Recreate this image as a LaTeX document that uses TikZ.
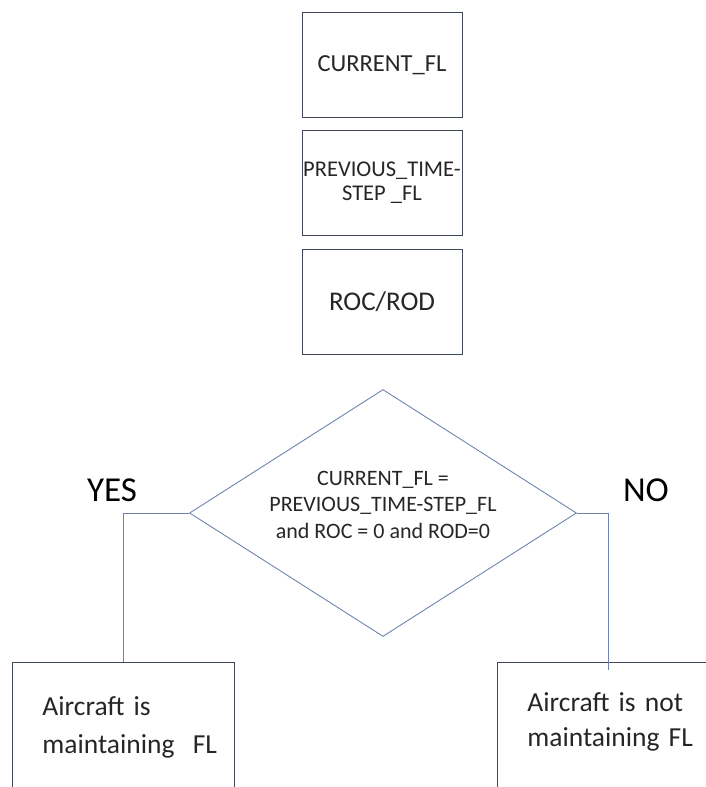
\documentclass[tikz,border=0pt]{standalone}
\usepackage{fontspec}
\setmainfont{Carlito}
\usetikzlibrary{positioning,shapes.geometric}
\definecolor{flBoxLine}{HTML}{3E4859}
\definecolor{flLinkLine}{HTML}{6E84AC}
\definecolor{flText}{HTML}{262626}
\tikzset{
  input box/.style={
    rectangle, draw=flBoxLine, line width=0.9pt,
    minimum width=160pt, minimum height=105pt,
    inner sep=0pt, align=center, text=flText,
  },
  test diamond/.style={
    diamond, draw=flLinkLine, line width=0.9pt, aspect=1.567,
    minimum width=387pt, minimum height=247pt,
    inner sep=0pt, align=center, text=flText,
    font=\fontsize{22}{26.5}\selectfont,
  },
  result box/.style={
    rectangle, draw=flBoxLine, line width=0.9pt,
    text width=162pt, inner xsep=30pt, inner ysep=30pt,
    text depth=80pt, align=left, text=flText,
  },
  branch link/.style={draw=flLinkLine, line width=0.9pt},
  branch label/.style={text=black, font=\fontsize{35}{40}\selectfont},
}

\begin{document}
\begin{tikzpicture}[x=1pt, y=-1pt]
\clip (0,0) rectangle (706,787);

% --- inputs ---
\node[input box, anchor=north, font=\fontsize{24.5}{29}\selectfont]
  (curfl) at (382,12) {CURRENT\_FL};
\node[input box, below=12pt of curfl, font=\fontsize{22.5}{24}\selectfont]
  (prevfl) {PREVIOUS\_TIME-\\STEP \_FL};
\node[input box, below=13pt of prevfl, font=\fontsize{27}{30}\selectfont]
  (rocrod) {ROC/ROD};

% --- test ---
\node[test diamond] (test) at (383,513)
  {CURRENT\_FL =\\PREVIOUS\_TIME-STEP\_FL\\and ROC = 0 and ROD=0\\[-10pt]};

% --- outcomes ---
\node[result box, inner ysep=34pt, anchor=north west, font=\fontsize{27.5}{38}\selectfont]
  (keep) at (12,662) {Aircraft~is\\maintaining~~FL};
\node[result box, anchor=north west, font=\fontsize{27.5}{35}\selectfont]
  (change) at (497,662) {Aircraft~is~not\\maintaining~FL};

\draw[branch link] (test.west) -| (keep.north);
\draw[branch link, shorten >=-8pt] (test.east) -| (change.north);

\node[branch label] (yes) at (112,490) {YES};
\node[branch label] (no) at (646,490) {NO};

\end{tikzpicture}
\end{document}
